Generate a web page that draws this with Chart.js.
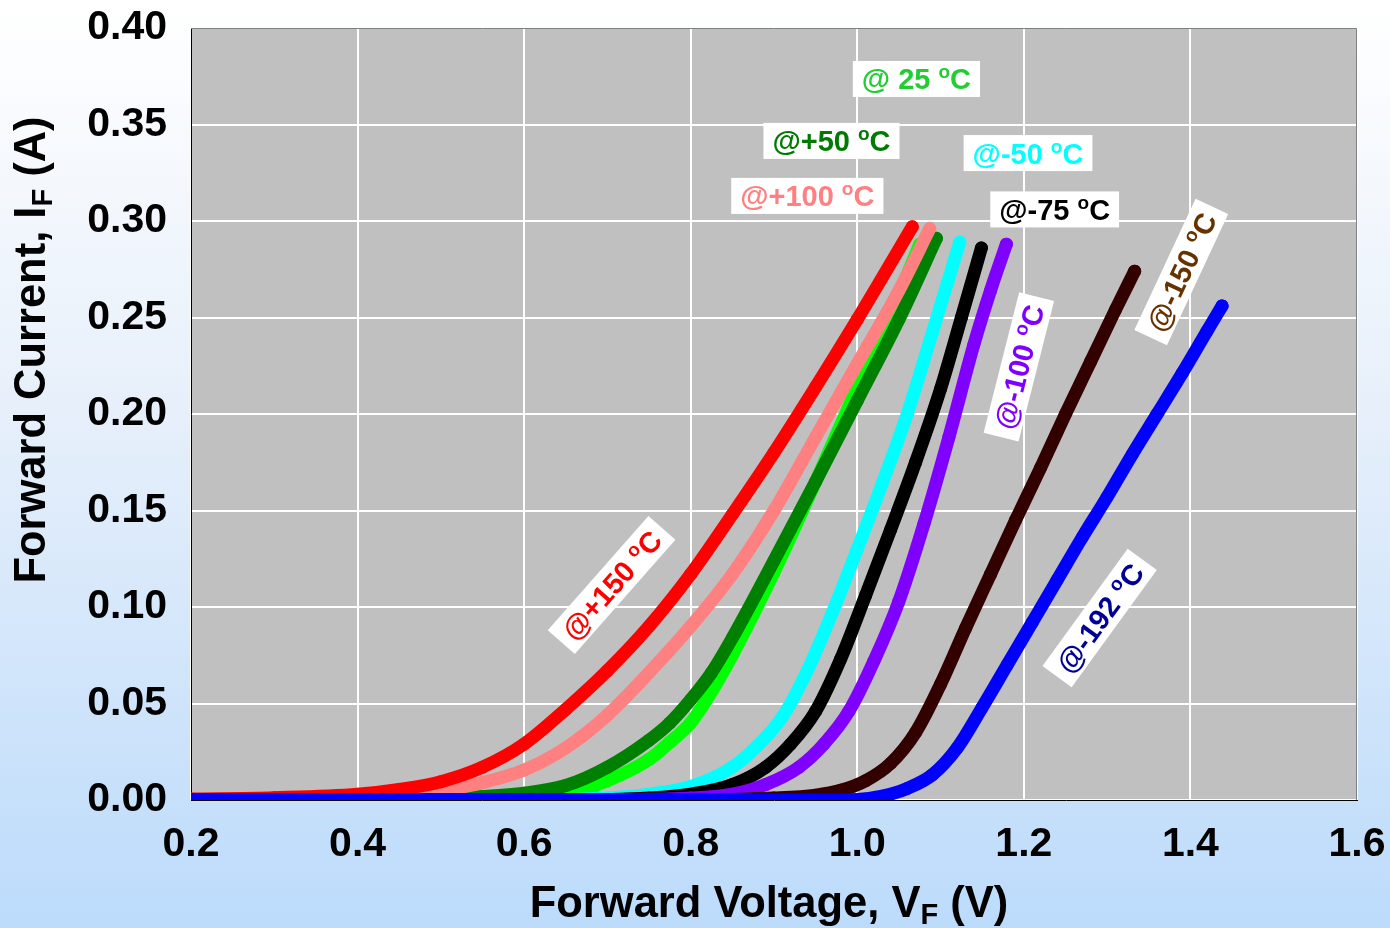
<!DOCTYPE html>
<html>
<head>
<meta charset="utf-8">
<title>Forward Current vs Forward Voltage</title>
<script src="https://cdn.jsdelivr.net/npm/chart.js@4.4.1/dist/chart.umd.min.js"></script>
<style>
  html, body { margin: 0; padding: 0; }
  body {
    width: 1390px; height: 928px; overflow: hidden;
    background: linear-gradient(to bottom, #ffffff 0%, #e6effa 45%, #bcdbfb 100%);
  }
  #wrap { position: relative; width: 1390px; height: 928px; }
</style>
</head>
<body>
<div id="wrap"><canvas id="ivChart" width="1390" height="928"></canvas></div>
<script>
// Axis ticks
const xTicks = [0.2, 0.4, 0.6, 0.8, 1.0, 1.2, 1.4, 1.6];
const yTicks = [0.00, 0.05, 0.10, 0.15, 0.20, 0.25, 0.30, 0.35, 0.40];

// Forward voltage (V) / forward current (A), one pair per temperature
const vP150 = [0.20, 0.30, 0.40, 0.45, 0.50, 0.55, 0.60, 0.65, 0.70, 0.75, 0.80, 0.85, 0.90, 0.95, 1.00, 1.066];
const iP150 = [0.0005, 0.0012, 0.003, 0.0055, 0.0095, 0.017, 0.029, 0.047, 0.067, 0.090, 0.117, 0.148, 0.180, 0.214, 0.249, 0.297];

const vP100 = [0.20, 0.30, 0.40, 0.45, 0.50, 0.55, 0.60, 0.65, 0.70, 0.75, 0.80, 0.85, 0.90, 0.95, 1.00, 1.05, 1.087];
const iP100 = [0.0002, 0.0004, 0.001, 0.0025, 0.005, 0.009, 0.0155, 0.027, 0.044, 0.066, 0.090, 0.117, 0.150, 0.188, 0.226, 0.264, 0.296];

const vP50 = [0.20, 0.40, 0.50, 0.55, 0.60, 0.65, 0.70, 0.75, 0.775, 0.80, 0.825, 0.85, 0.90, 0.95, 1.00, 1.05, 1.095];
const iP50 = [0.0001, 0.0003, 0.001, 0.0018, 0.0035, 0.0075, 0.017, 0.031, 0.040, 0.052, 0.066, 0.084, 0.124, 0.165, 0.207, 0.249, 0.291];

const vP25 = [0.20, 0.50, 0.60, 0.65, 0.70, 0.75, 0.775, 0.80, 0.825, 0.85, 0.90, 0.95, 1.00, 1.05, 1.075];
const iP25 = [0.0000, 0.0001, 0.001, 0.0035, 0.010, 0.021, 0.030, 0.040, 0.056, 0.075, 0.118, 0.165, 0.214, 0.262, 0.288];

const vM50 = [0.20, 0.60, 0.70, 0.75, 0.80, 0.85, 0.88, 0.91, 0.94, 0.97, 1.00, 1.03, 1.06, 1.09, 1.123];
const iM50 = [0.0000, 0.0000, 0.001, 0.003, 0.007, 0.017, 0.028, 0.043, 0.067, 0.097, 0.130, 0.164, 0.200, 0.242, 0.289];

const vM75 = [0.20, 0.65, 0.75, 0.80, 0.85, 0.89, 0.92, 0.95, 0.98, 1.01, 1.04, 1.07, 1.10, 1.125, 1.149];
const iM75 = [0.0000, 0.0000, 0.001, 0.003, 0.008, 0.017, 0.029, 0.046, 0.073, 0.106, 0.140, 0.175, 0.213, 0.250, 0.286];

const vM100 = [0.20, 0.70, 0.80, 0.85, 0.89, 0.93, 0.96, 0.99, 1.02, 1.05, 1.08, 1.11, 1.14, 1.16, 1.179];
const iM100 = [0.0000, 0.0000, 0.001, 0.003, 0.008, 0.017, 0.029, 0.046, 0.072, 0.103, 0.143, 0.188, 0.236, 0.264, 0.288];

const vM150 = [0.20, 0.80, 0.90, 0.95, 0.98, 1.01, 1.04, 1.07, 1.10, 1.13, 1.16, 1.19, 1.22, 1.25, 1.28, 1.31, 1.333];
const iM150 = [0.0000, 0.0000, 0.001, 0.0025, 0.005, 0.010, 0.019, 0.035, 0.060, 0.089, 0.117, 0.145, 0.172, 0.200, 0.227, 0.254, 0.274];

const vM192 = [0.20, 0.95, 1.00, 1.03, 1.06, 1.09, 1.12, 1.15, 1.18, 1.21, 1.24, 1.27, 1.30, 1.33, 1.36, 1.39, 1.42, 1.438];
const iM192 = [0.0000, 0.0000, 0.0003, 0.002, 0.006, 0.013, 0.027, 0.048, 0.070, 0.092, 0.114, 0.136, 0.157, 0.179, 0.200, 0.221, 0.243, 0.256];

const FONT = "'Liberation Sans', Arial, Helvetica, sans-serif";

function toPoints(vs, is) {
    return vs.map((v, k) => ({ x: v, y: is[k] }));
}

function series(label, vs, is, color) {
    return {
        label: label,
        data: toPoints(vs, is),
        showLine: true,
        borderColor: color,
        backgroundColor: color,
        borderWidth: 13,
        borderCapStyle: 'round',
        borderJoinStyle: 'round',
        pointRadius: 6.5,
        pointBorderWidth: 0,
        pointHoverRadius: 6.5,
        cubicInterpolationMode: 'monotone'
    };
}

// first dataset ends up on top
const datasets = [
    series('-192', vM192, iM192, '#0000ff'),
    series('-150', vM150, iM150, '#330000'),
    series('-100', vM100, iM100, '#8000ff'),
    series('-75', vM75, iM75, '#000000'),
    series('-50', vM50, iM50, '#00ffff'),
    series('+150', vP150, iP150, '#ff0000'),
    series('+100', vP100, iP100, '#ff8080'),
    series('+50', vP50, iP50, '#008000'),
    series('25', vP25, iP25, '#00ff00')
];

// temperature tags: anchor in data units, angle in degrees
const tags = [
    { pre: '@ 25 ', color: '#22cc33', x: 1.071, y: 0.3736, angle: 0 },
    { pre: '@+50 ', color: '#007a00', x: 0.969, y: 0.3415, angle: 0 },
    { pre: '@-50 ', color: '#00ffff', x: 1.205, y: 0.3352, angle: 0 },
    { pre: '@+100 ', color: '#ff8080', x: 0.940, y: 0.3130, angle: 0 },
    { pre: '@-75 ', color: '#000000', x: 1.237, y: 0.3060, angle: 0 },
    { pre: '@+150 ', color: '#ff0000', x: 0.705, y: 0.1114, angle: -48.6 },
    { pre: '@-100 ', color: '#8000ff', x: 1.194, y: 0.2244, angle: -75.8 },
    { pre: '@-150 ', color: '#663300', x: 1.389, y: 0.2736, angle: -65 },
    { pre: '@-192 ', color: '#000099', x: 1.291, y: 0.0943, angle: -54 }
];

function drawTag(ctx, tag, cx, cy) {
    const main = 'bold 29px ' + FONT;
    const small = 'bold 19px ' + FONT;
    ctx.save();
    ctx.translate(cx, cy);
    ctx.rotate(tag.angle * Math.PI / 180);
    ctx.font = main;
    const w1 = ctx.measureText(tag.pre).width;
    const w3 = ctx.measureText('C').width;
    ctx.font = small;
    const w2 = ctx.measureText('o').width;
    const total = w1 + w2 + w3;
    ctx.fillStyle = '#ffffff';
    ctx.fillRect(-total / 2 - 9, -18, total + 18, 36);
    ctx.fillStyle = tag.color;
    ctx.textBaseline = 'alphabetic';
    ctx.textAlign = 'left';
    let x = -total / 2;
    ctx.font = main;
    ctx.fillText(tag.pre, x, 10.5);
    x += w1;
    ctx.font = small;
    ctx.fillText('o', x, -0.5);
    x += w2;
    ctx.font = main;
    ctx.fillText('C', x, 10.5);
    ctx.restore();
}

// axis title with subscript, centred on (cx, baseline cy)
function drawTitle(ctx, pre, sub, post, cx, cy, angle) {
    const main = 'bold 43.5px ' + FONT;
    const small = 'bold 29px ' + FONT;
    ctx.save();
    ctx.translate(cx, cy);
    ctx.rotate(angle);
    ctx.font = main;
    const w1 = ctx.measureText(pre).width;
    const w3 = ctx.measureText(post).width;
    ctx.font = small;
    const w2 = ctx.measureText(sub).width;
    let x = -(w1 + w2 + w3) / 2;
    ctx.fillStyle = '#000000';
    ctx.textBaseline = 'alphabetic';
    ctx.textAlign = 'left';
    ctx.font = main;
    ctx.fillText(pre, x, 0);
    x += w1;
    ctx.font = small;
    ctx.fillText(sub, x, 7);
    x += w2;
    ctx.font = main;
    ctx.fillText(post, x, 0);
    ctx.restore();
}

const plotDecor = {
    id: 'plotDecor',
    beforeDraw(chart) {
        const { ctx, chartArea: a } = chart;
        ctx.save();
        ctx.fillStyle = '#c0c0c0';
        ctx.fillRect(a.left, a.top, a.right - a.left, a.bottom - a.top);
        ctx.restore();
    },
    beforeDatasetsDraw(chart) {
        const { ctx, chartArea: a } = chart;
        ctx.save();
        ctx.strokeStyle = '#808080';
        ctx.lineWidth = 1;
        ctx.beginPath();
        ctx.moveTo(a.left, a.top + 0.5);
        ctx.lineTo(a.right - 0.5, a.top + 0.5);
        ctx.lineTo(a.right - 0.5, a.bottom);
        ctx.stroke();
        ctx.restore();
    },
    afterDatasetsDraw(chart) {
        const ctx = chart.ctx;
        const xs = chart.scales.x, ys = chart.scales.y;
        tags.forEach(t => drawTag(ctx, t, xs.getPixelForValue(t.x), ys.getPixelForValue(t.y)));
    },
    afterDraw(chart) {
        const ctx = chart.ctx;
        drawTitle(ctx, 'Forward Voltage, V', 'F', ' (V)', 769, 917, 0);
        drawTitle(ctx, 'Forward Current, I', 'F', ' (A)', 45, 350, -Math.PI / 2);
    }
};

new Chart(document.getElementById('ivChart'), {
    type: 'scatter',
    data: { datasets: datasets },
    options: {
        responsive: false,
        animation: false,
        layout: { padding: { left: 0, right: 33, top: 28, bottom: 0 } },
        plugins: {
            legend: { display: false },
            tooltip: { enabled: false }
        },
        scales: {
            x: {
                type: 'linear',
                min: xTicks[0],
                max: xTicks[xTicks.length - 1],
                afterBuildTicks: s => { s.ticks = xTicks.map(v => ({ value: v })); },
                afterFit: s => { s.height = 128; s.paddingLeft = 0; s.paddingRight = 0; },
                ticks: {
                    color: '#000000',
                    font: { family: FONT, size: 41, weight: 'bold' },
                    padding: 20,
                    maxRotation: 0,
                    callback: v => Number(v).toFixed(1)
                },
                grid: { color: '#ffffff', lineWidth: 2, drawTicks: false },
                border: { display: true, color: '#000000', width: 1 }
            },
            y: {
                type: 'linear',
                min: yTicks[0],
                max: yTicks[yTicks.length - 1],
                afterBuildTicks: s => { s.ticks = yTicks.map(v => ({ value: v })); },
                afterFit: s => { s.width = 191; s.paddingTop = 0; s.paddingBottom = 0; },
                ticks: {
                    color: '#000000',
                    font: { family: FONT, size: 41, weight: 'bold' },
                    padding: 24,
                    callback: v => Number(v).toFixed(2)
                },
                grid: { color: '#ffffff', lineWidth: 2, drawTicks: false },
                border: { display: true, color: '#000000', width: 1 }
            }
        }
    },
    plugins: [plotDecor]
});
</script>
</body>
</html>
